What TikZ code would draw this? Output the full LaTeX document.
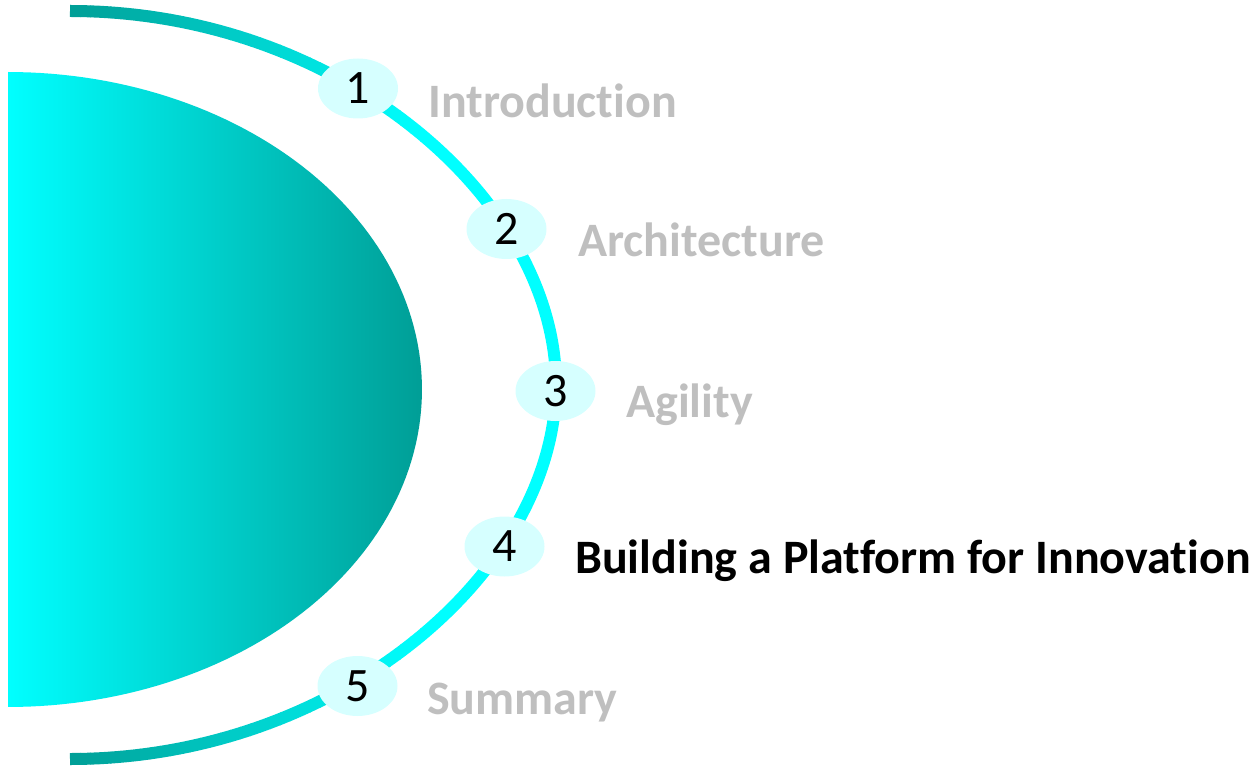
\documentclass[tikz,border=0pt]{standalone}
\usepackage{fontspec}
\setmainfont{Carlito}[Ligatures=NoCommon]
\usetikzlibrary{shapes.geometric}
\definecolor{dteal}{RGB}{0,158,150}
\definecolor{bcyan}{RGB}{0,255,255}
\definecolor{pale}{RGB}{214,255,255}
\definecolor{lgray}{RGB}{191,191,191}
\newcommand\railpath{(70,11) .. controls (340,11) and (556,200) .. (556,385) .. controls (556,570) and (340,759) .. (70,759)}
\tikzset{
  rail/.style={line width=12pt},
  numbub/.style={ellipse, fill=pale, minimum width=80pt, minimum height=60pt, inner sep=0pt, text=black, font=\fontsize{48}{56}\selectfont},
  toplabel/.style={anchor=base west, inner sep=0pt, text=lgray, font=\fontsize{48}{56}\selectfont\bfseries},
  curlabel/.style={toplabel, text=black}
}
\begin{document}
\begin{tikzpicture}[x=1pt, y=-1pt]
\useasboundingbox (0,0) rectangle (1253,767);
% half disc
\shade[left color=bcyan, right color=dteal] plot[domain=-90:90, samples=120] ({8+414*cos(\x)}, {389.5+317.5*sin(\x)}) -- cycle;
% rail with gradient
\foreach \i in {0,...,35}{
  \pgfmathsetmacro\xa{60+10*\i}
  \pgfmathsetmacro\xb{70.6+10*\i}
  \pgfmathsetmacro\p{max(0,min(100,(65+10*\i-70)/350*100))}
  \begin{scope}
    \clip (\xa,0) rectangle (\xb,767);
    \draw[rail, color=bcyan!\p!dteal] \railpath;
  \end{scope}
}
\begin{scope}
  \clip (420,0) rectangle (600,767);
  \draw[rail, color=bcyan] \railpath;
\end{scope}
% numbered bubbles
\node[numbub] (n1) at (358,88.5) {1};
\node[numbub] (n2) at (506.5,229) {2};
\node[numbub] (n3) at (555.5,391) {3};
\node[numbub] (n4) at (504.5,546.5) {4};
\node[numbub] (n5) at (357.5,686) {5};
% labels
\node[toplabel] (l1) at (428,118) {Introduction};
\node[toplabel] (l2) at (578,257) {Architecture};
\node[toplabel] (l3) at (626,417) {Agility};
\node[curlabel] (l4) at (575,573) {Building a Platform for Innovation};
\node[toplabel] (l5) at (427,714) {Summary};
\end{tikzpicture}
\end{document}
